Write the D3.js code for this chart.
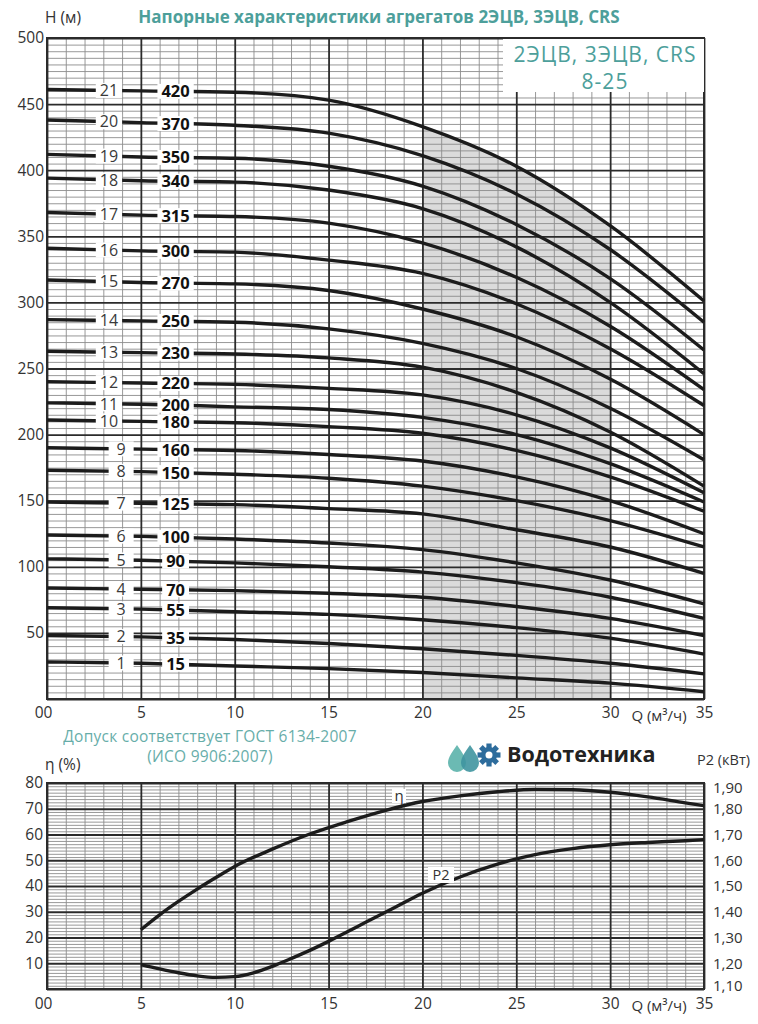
<!DOCTYPE html>
<html><head><meta charset="utf-8">
<script src="https://cdn.jsdelivr.net/npm/d3@7/dist/d3.min.js"></script>
<style>body{margin:0;background:#fff} svg{display:block}</style>
</head><body><svg id="c" width="758" height="1024"></svg>
<script>
// ---------------- DATA ----------------
const qPoints = [0, 5, 10, 15, 20, 25, 30, 35];
const stageLabels = ["21","20","19","18","17","16","15","14","13","12","11","10","9","8","7","6","5","4","3","2","1"];
const modelLabels = ["420","370","350","340","315","300","270","250","230","220","200","180","160","150","125","100","90","70","55","35","15"];
const h21 = [461, 460, 459, 453, 433, 403, 358, 301];
const h20 = [438, 436, 434, 428, 411, 382, 340, 285];
const h19 = [412, 410, 409, 403, 388, 359, 318, 264];
const h18 = [394, 392, 391, 385, 371, 342, 300, 246];
const h17 = [368, 366, 365, 360, 345, 319, 282, 234];
const h16 = [341, 339, 338, 332, 322, 299, 265, 222];
const h15 = [317, 315, 314, 309, 295, 274, 242, 200];
const h14 = [287, 286, 285, 280, 269, 250, 220, 181];
const h13 = [263, 262, 261, 258, 251, 232, 202, 161];
const h12 = [240, 239, 238, 235, 230, 215, 190, 156];
const h11 = [224, 223, 221, 219, 213, 200, 178, 149];
const h10 = [211, 210, 209, 206, 201, 188, 168, 142];
const h9  = [190, 189, 188, 185, 180, 168, 150, 125];
const h8  = [173, 172, 170, 167, 161, 150, 135, 115];
const h7  = [149, 148, 147, 144, 140, 128, 115, 95];
const h6  = [124, 123, 121, 118, 113, 103, 90, 72];
const h5  = [106, 105, 103, 100, 96, 88, 77, 61];
const h4  = [84, 83, 82, 80, 77, 70, 61, 48];
const h3  = [69, 68, 66, 64, 60, 54, 46, 34];
const h2  = [48, 47, 45, 42, 38, 33, 27, 19];
const h1  = [28, 27, 25, 23, 20, 16, 12, 5.5];
const headCurves = [h21,h20,h19,h18,h17,h16,h15,h14,h13,h12,h11,h10,h9,h8,h7,h6,h5,h4,h3,h2,h1];

const xTicks = [0, 5, 10, 15, 20, 25, 30, 35];
const headTicks = [50, 100, 150, 200, 250, 300, 350, 400, 450, 500];
const effTicks = [10, 20, 30, 40, 50, 60, 70, 80];
const powerTicks = [1.10, 1.20, 1.30, 1.40, 1.50, 1.60, 1.70, 1.80, 1.90];
const shadeRange = [20, 30];

const effQ = [5, 6, 7, 8, 9, 10, 12, 14, 16, 18, 20, 22, 24, 26, 28, 30, 32, 34, 35];
const effValues = [23, 28.8, 34, 38.8, 43.3, 47.6, 54.3, 60.2, 65, 69.3, 72.8, 75, 76.6, 77.5, 77.4, 76.4, 74.6, 72.3, 71.2];
const powerQ = [5, 6, 7, 8, 9, 10, 11, 12, 13, 14, 15, 16, 17, 18, 19, 20, 22, 24, 26, 28, 30, 32, 34, 35];
const powerValues = [1.195, 1.178, 1.163, 1.151, 1.145, 1.148, 1.163, 1.188, 1.218, 1.25, 1.285, 1.322, 1.36, 1.397, 1.435, 1.472, 1.535, 1.585, 1.622, 1.645, 1.66, 1.669, 1.676, 1.68];

// ---------------- STYLE ----------------
const teal = "#4d9f9b";
const ink = "#1c1c1c";
const txt = "#333";
const font = "'Open Sans','Noto Sans',sans-serif";
const svg = d3.select("#c");

const X0 = 47, X1 = 704;
const x = d3.scaleLinear().domain([0, 35]).range([X0, X1]);
const y = d3.scaleLinear().domain([0, 500]).range([699, 38]);
const yb = d3.scaleLinear().domain([0, 80]).range([989, 783]);
const yp = d3.scaleLinear().domain([1.10, 1.90]).range([989, 783]);

function hAt(arr, q) {
  for (let i = 0; i < qPoints.length - 1; i++) {
    if (q >= qPoints[i] && q <= qPoints[i + 1]) {
      const t = (q - qPoints[i]) / (qPoints[i + 1] - qPoints[i]);
      return arr[i] + t * (arr[i + 1] - arr[i]);
    }
  }
  return arr[arr.length - 1];
}

function drawGrid(yScale, yMinorStep, yMajorStep, yMax) {
  const g = svg.append("g");
  const top = yScale(yMax), bot = yScale(0);
  const minorX = d3.range(0, 36, 1).filter(v => v % 5 !== 0);
  const majorX = d3.range(0, 36, 5);
  const minorY = d3.range(0, yMax + 0.001, yMinorStep).filter(v => Math.abs(v / yMajorStep - Math.round(v / yMajorStep)) > 1e-6);
  const majorY = d3.range(0, yMax + 0.001, yMajorStep);
  g.append("g").attr("transform", `translate(0,${bot})`)
    .call(d3.axisBottom(x).tickValues(minorX).tickSize(-(bot - top)).tickFormat(""))
    .call(s => s.select(".domain").remove())
    .selectAll("line").attr("stroke", "#8c8c8c").attr("stroke-width", 0.9);
  g.append("g").attr("transform", `translate(${X0},0)`)
    .call(d3.axisLeft(yScale).tickValues(minorY).tickSize(-(X1 - X0)).tickFormat(""))
    .call(s => s.select(".domain").remove())
    .selectAll("line").attr("stroke", "#8c8c8c").attr("stroke-width", 0.9);
  g.append("g").attr("transform", `translate(0,${bot})`)
    .call(d3.axisBottom(x).tickValues(majorX).tickSize(-(bot - top)).tickFormat(""))
    .call(s => s.select(".domain").remove())
    .selectAll("line").attr("stroke", "#2b2b2b").attr("stroke-width", 1.8);
  g.append("g").attr("transform", `translate(${X0},0)`)
    .call(d3.axisLeft(yScale).tickValues(majorY).tickSize(-(X1 - X0)).tickFormat(""))
    .call(s => s.select(".domain").remove())
    .selectAll("line").attr("stroke", "#2b2b2b").attr("stroke-width", 1.8);
  g.append("rect").attr("x", X0).attr("y", top).attr("width", X1 - X0).attr("height", bot - top)
    .attr("fill", "none").attr("stroke", "#2b2b2b").attr("stroke-width", 2);
}

function styleAxisText(sel, size) {
  sel.select(".domain").remove();
  sel.selectAll("text").attr("font-family", font).attr("font-size", size).attr("fill", txt);
}

// ---------------- TOP CHART ----------------
svg.append("clipPath").attr("id", "shadeClip").append("rect")
  .attr("x", x(shadeRange[0])).attr("y", y(500))
  .attr("width", x(shadeRange[1]) - x(shadeRange[0])).attr("height", y(0) - y(500));
const shadeArea = d3.area().x(d => x(d[0])).y0(y(0)).y1(d => y(d[1])).curve(d3.curveMonotoneX);
svg.append("path").datum(qPoints.map((q, i) => [q, h21[i]]))
  .attr("d", shadeArea).attr("fill", "#dbdbdb").attr("clip-path", "url(#shadeClip)");

drawGrid(y, 5, 50, 500);

// top-right white box with series name
svg.append("rect").attr("x", 503).attr("y", 39).attr("width", X1 - 503).attr("height", 53).attr("fill", "#fff");
svg.append("text").attr("x", 605).attr("y", 62).attr("text-anchor", "middle")
  .attr("font-family", font).attr("font-size", 21).attr("letter-spacing", 1).attr("fill", teal).text("2ЭЦВ, 3ЭЦВ, CRS");
svg.append("text").attr("x", 605).attr("y", 89).attr("text-anchor", "middle")
  .attr("font-family", font).attr("font-size", 21).attr("letter-spacing", 1).attr("fill", teal).text("8-25");

// curves
const headLine = d3.line().x(d => x(d[0])).y(d => y(d[1])).curve(d3.curveMonotoneX);
svg.append("g").selectAll("path").data(headCurves).join("path")
  .attr("d", h => headLine(qPoints.map((q, i) => [q, h[i]])))
  .attr("fill", "none").attr("stroke", ink).attr("stroke-width", 3.4);

// labels
const labG = svg.append("g");
headCurves.forEach((h, i) => {
  const sLab = stageLabels[i];
  const sq = sLab.length > 1 ? 3.3 : 3.95;
  const sy = y(hAt(h, sq));
  const g1 = labG.append("g");
  const r1 = g1.append("rect").attr("fill", "#fff");
  const t1 = g1.append("text").attr("x", x(sq)).attr("y", sy).attr("dy", "0.36em")
    .attr("text-anchor", "middle").attr("font-family", font).attr("font-size", 16).attr("fill", "#3a3a3a").text(sLab);
  const b1 = t1.node().getBBox();
  const w1 = Math.max(b1.width + 8, 25);
  r1.attr("x", x(sq) - w1 / 2).attr("y", sy - 7.5).attr("width", w1).attr("height", 15);

  const mq = 6.85;
  const my = y(hAt(h, mq));
  const g2 = labG.append("g");
  const r2 = g2.append("rect").attr("fill", "#fff");
  const t2 = g2.append("text").attr("x", x(mq)).attr("y", my).attr("dy", "0.36em")
    .attr("text-anchor", "middle").attr("font-family", font).attr("font-weight", "bold")
    .attr("font-size", 16.5).attr("fill", "#111").text(modelLabels[i]);
  const b2 = t2.node().getBBox();
  r2.attr("x", b2.x - 4).attr("y", my - 7.5).attr("width", b2.width + 8).attr("height", 15);
});

// axes text top
svg.append("g").attr("transform", `translate(${X0},0)`)
  .call(d3.axisLeft(y).tickValues(headTicks).tickSize(0).tickPadding(3))
  .call(s => styleAxisText(s, 15.5));
svg.append("g").attr("transform", `translate(0,${y(0)})`)
  .call(d3.axisBottom(x).tickValues(xTicks).tickSize(0).tickPadding(8).tickFormat(d => d === 0 ? "00" : d))
  .call(s => styleAxisText(s, 15.5))
  .call(s => s.selectAll(".tick").filter(d => d === 0).select("text").attr("dx", -4));

svg.append("text").attr("x", 45).attr("y", 23).attr("font-family", font).attr("font-size", 15.5).attr("fill", txt).text("H (м)");
svg.append("text").attr("x", 659).attr("y", 721).attr("text-anchor", "middle").attr("font-family", font).attr("font-size", 15).attr("fill", txt).text("Q (м³/ч)");
svg.append("text").attr("x", 379).attr("y", 23).attr("text-anchor", "middle").attr("font-family", font)
  .attr("font-weight", "bold").attr("font-size", 17).attr("fill", teal).text("Напорные характеристики агрегатов 2ЭЦВ, 3ЭЦВ, CRS");

// middle texts
svg.append("text").attr("x", 210).attr("y", 742).attr("text-anchor", "middle").attr("font-family", font)
  .attr("font-size", 15.5).attr("letter-spacing", 0.25).attr("fill", teal).attr("opacity", 0.85).text("Допуск соответствует ГОСТ 6134-2007");
svg.append("text").attr("x", 210).attr("y", 762).attr("text-anchor", "middle").attr("font-family", font)
  .attr("font-size", 15.5).attr("letter-spacing", 0.25).attr("fill", teal).attr("opacity", 0.85).text("(ИСО 9906:2007)");

// logo
const logo = svg.append("g");
const drop = "M0,-13 C4,-7 9,-1 9,5 A9,9 0 1,1 -9,5 C-9,-1 -4,-7 0,-13Z";
logo.append("path").attr("d", drop).attr("transform", "translate(457,758)").attr("fill", "#6bbab3");
logo.append("path").attr("d", drop).attr("transform", "translate(470,758)").attr("fill", "#3f95a0").attr("opacity", 0.9);
const gear = logo.append("g").attr("transform", "translate(489,755)");
d3.range(8).forEach(k => {
  gear.append("rect").attr("x", -2.6).attr("y", -11.5).attr("width", 5.2).attr("height", 6)
    .attr("fill", "#2d6c9c").attr("transform", `rotate(${k * 45})`);
});
gear.append("circle").attr("r", 8).attr("fill", "#2d6c9c");
gear.append("circle").attr("r", 3.5).attr("fill", "#fff");
svg.append("text").attr("x", 507).attr("y", 762).attr("font-family", font).attr("font-weight", "bold")
  .attr("font-size", 21.5).attr("fill", "#222").text("Водотехника");

// ---------------- BOTTOM CHART ----------------
drawGrid(yb, 1.25, 10, 80);

const effLine = d3.line().x(d => x(d[0])).y(d => yb(d[1])).curve(d3.curveMonotoneX);
svg.append("path").datum(effQ.map((q, i) => [q, effValues[i]])).attr("d", effLine)
  .attr("fill", "none").attr("stroke", ink).attr("stroke-width", 3.4);
const powLine = d3.line().x(d => x(d[0])).y(d => yp(d[1])).curve(d3.curveMonotoneX);
svg.append("path").datum(powerQ.map((q, i) => [q, powerValues[i]])).attr("d", powLine)
  .attr("fill", "none").attr("stroke", ink).attr("stroke-width", 3.4);

svg.append("rect").attr("x", 392).attr("y", 789).attr("width", 14).attr("height", 14).attr("fill", "#fff");
svg.append("text").attr("x", 399).attr("y", 801).attr("text-anchor", "middle").attr("font-family", font)
  .attr("font-size", 15).attr("fill", txt).text("η");
svg.append("rect").attr("x", 428).attr("y", 867).attr("width", 26).attr("height", 16).attr("fill", "#fff");
svg.append("text").attr("x", 441).attr("y", 880).attr("text-anchor", "middle").attr("font-family", font)
  .attr("font-size", 14.5).attr("fill", txt).text("P2");

svg.append("g").attr("transform", `translate(${X0},0)`)
  .call(d3.axisLeft(yb).tickValues(effTicks).tickSize(0).tickPadding(4))
  .call(s => styleAxisText(s, 15.5));
svg.append("g").attr("transform", `translate(${X1},0)`)
  .call(d3.axisRight(yp).tickValues(powerTicks).tickSize(0).tickPadding(9).tickFormat(d => d3.format(".2f")(d).replace(".", ",")))
  .call(s => styleAxisText(s, 15))
  .call(s => s.selectAll(".tick").filter(d => d > 1.85).select("text").attr("dy", "0.62em"))
  .call(s => s.selectAll(".tick").filter(d => d < 1.15).select("text").attr("dy", "0.1em"));
svg.append("g").attr("transform", `translate(0,${yb(0)})`)
  .call(d3.axisBottom(x).tickValues(xTicks).tickSize(0).tickPadding(9).tickFormat(d => d === 0 ? "00" : d))
  .call(s => styleAxisText(s, 15.5))
  .call(s => s.selectAll(".tick").filter(d => d === 0).select("text").attr("dx", -4));

svg.append("text").attr("x", 45).attr("y", 770).attr("font-family", font).attr("font-size", 15.5).attr("fill", txt).text("η (%)");
svg.append("text").attr("x", 697).attr("y", 765).attr("font-family", font).attr("font-size", 14.5).attr("fill", txt).text("P2 (кВт)");
svg.append("text").attr("x", 659).attr("y", 1011).attr("text-anchor", "middle").attr("font-family", font).attr("font-size", 15).attr("fill", txt).text("Q (м³/ч)");
</script>
</body></html>
